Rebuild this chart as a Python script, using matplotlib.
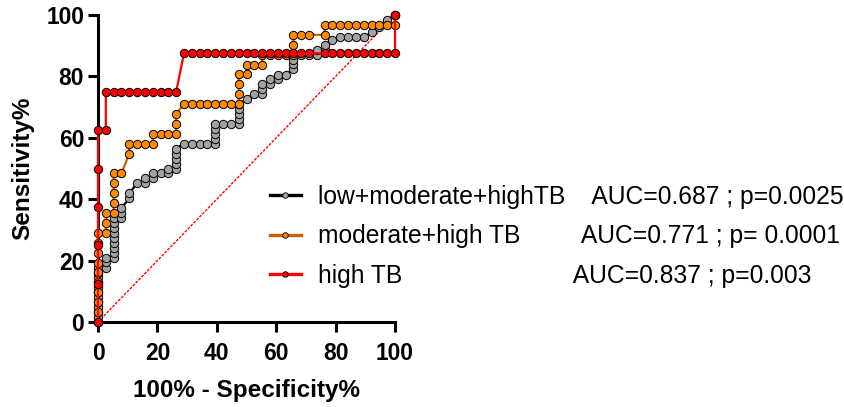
import matplotlib
matplotlib.use('Agg')
import matplotlib.pyplot as plt
from matplotlib.lines import Line2D

plt.rcParams['font.family'] = ['Liberation Sans', 'DejaVu Sans']

# ---------------- data ----------------
# low+moderate+highTB
gray_x = [0, 0, 0, 0, 0, 0, 0, 0, 0, 0, 0, 0,
          2.63, 2.63, 2.63,
          5.26, 5.26, 5.26, 5.26, 5.26, 5.26, 5.26, 5.26, 5.26,
          7.89, 7.89, 7.89,
          10.53, 10.53,
          13.16,
          15.79, 15.79,
          18.42, 18.42,
          21.05,
          23.68, 23.68,
          26.32, 26.32, 26.32, 26.32, 26.32,
          28.95, 31.58, 34.21, 36.84, 39.47,
          39.47, 39.47, 39.47, 39.47,
          42.11, 44.74, 47.37,
          47.37, 47.37, 47.37, 47.37,
          50.00, 52.63,
          55.26, 55.26, 55.26,
          57.89, 57.89,
          60.53, 60.53,
          63.16,
          65.79, 65.79, 65.79,
          68.42, 71.05,
          73.68, 73.68,
          76.32, 76.32,
          78.95,
          81.58, 84.21, 86.84, 89.47,
          92.11, 94.74, 97.37, 100]
gray_y = [0, 1.6, 3.2, 4.8, 6.5, 8.1, 9.7, 11.3, 12.9, 14.5, 16.1, 17.7,
          17.7, 19.4, 21.0,
          21.0, 22.6, 24.2, 25.8, 27.4, 29.0, 30.6, 32.3, 33.9,
          33.9, 35.5, 37.1,
          40.3, 41.9,
          45.2,
          45.2, 46.8,
          46.8, 48.4,
          48.4,
          48.4, 50.0,
          50.0, 51.6, 53.2, 54.8, 56.5,
          58.1, 58.1, 58.1, 58.1, 58.1,
          59.7, 61.3, 62.9, 64.5,
          64.5, 64.5, 64.5,
          66.1, 67.7, 69.4, 71.0,
          72.6, 74.2,
          74.2, 75.8, 77.4,
          77.4, 79.0,
          79.0, 80.6,
          80.6,
          82.3, 83.9, 85.5,
          87.1, 87.1,
          87.1, 88.7,
          88.7, 90.3,
          91.9,
          92.7, 92.7, 92.7, 92.7,
          94.4, 96.0, 98.4, 100]

# moderate+high TB
orange_x = [0, 0, 0, 0, 0, 0, 0, 0, 0, 0,
            2.63, 2.63, 2.63,
            5.26, 5.26, 5.26, 5.26, 5.26,
            7.89,
            10.53, 10.53,
            13.16, 15.79, 18.42,
            18.42, 21.05, 23.68, 26.32,
            26.32, 26.32,
            28.95, 31.58, 34.21, 36.84, 39.47, 42.11, 44.74, 47.37,
            47.37, 47.37, 47.37,
            50.00, 50.00, 52.63, 55.26,
            55.26, 57.89, 60.53, 63.16, 65.79,
            65.79, 65.79, 68.42, 71.05, 76.32,
            76.32, 78.95, 81.58, 84.21, 86.84, 89.47, 92.11, 94.74, 97.37, 100,
            100]
orange_y = [0, 3.23, 6.45, 9.68, 12.90, 16.13, 19.35, 22.58, 25.81, 29.03,
            29.03, 32.26, 35.48,
            35.48, 38.71, 41.94, 45.16, 48.39,
            48.39,
            54.84, 58.06,
            58.06, 58.06, 58.06,
            61.29, 61.29, 61.29, 61.29,
            64.52, 67.74,
            70.97, 70.97, 70.97, 70.97, 70.97, 70.97, 70.97, 70.97,
            74.19, 77.42, 80.65,
            80.65, 83.87, 83.87, 83.87,
            87.10, 87.10, 87.10, 87.10, 87.10,
            90.32, 93.55, 93.55, 93.55, 93.55,
            96.77, 96.77, 96.77, 96.77, 96.77, 96.77, 96.77, 96.77, 96.77, 96.77,
            100]

# high TB
red_x = [0, 0, 0, 0, 0, 0,
         2.63, 2.63,
         5.26, 7.89, 10.53, 13.16, 15.79, 18.42, 21.05, 23.68, 26.32,
         28.95, 31.58, 34.21, 36.84, 39.47, 42.11, 44.74, 47.37, 50.00,
         52.63, 55.26, 57.89, 60.53, 63.16, 65.79, 68.42, 71.05,
         76.32, 78.95, 81.58, 84.21, 86.84, 89.47, 92.11, 94.74, 97.37, 100,
         100]
red_y = [0, 12.5, 25, 37.5, 50, 62.5,
         62.5, 75,
         75, 75, 75, 75, 75, 75, 75, 75, 75,
         87.5, 87.5, 87.5, 87.5, 87.5, 87.5, 87.5, 87.5, 87.5,
         87.5, 87.5, 87.5, 87.5, 87.5, 87.5, 87.5, 87.5,
         87.5, 87.5, 87.5, 87.5, 87.5, 87.5, 87.5, 87.5, 87.5, 87.5,
         100]

ref_x = [0, 100]
ref_y = [0, 100]

series_names = ["low+moderate+highTB", "moderate+high TB", "high TB"]
auc_texts = ["AUC=0.687 ; p=0.0025", "AUC=0.771 ; p= 0.0001", "AUC=0.837 ; p=0.003"]
name_gaps = [4, 9, 25]   # spaces between name and AUC text

xticks = [0, 20, 40, 60, 80, 100]
yticks = [0, 20, 40, 60, 80, 100]

# ---------------- styles ----------------
marker_faces = ['#A3A3A3', '#FF8A00', '#FF0000']
line_colors = ['#000000', '#C86400', '#FF0000']

fig = plt.figure(figsize=(8.44, 4.07), dpi=100)
W, H = 844, 407
ax = fig.add_axes([98 / W, 1 - 322 / H, (395 - 98) / W, (322 - 15) / H])

ax.plot(ref_x, ref_y, color='#FF0000', lw=1.0, ls=(0, (2, 1)), zorder=1)

for xs, ys, mf, lc, z in [(gray_x, gray_y, marker_faces[0], line_colors[0], 2),
                          (orange_x, orange_y, marker_faces[1], line_colors[1], 3),
                          (red_x, red_y, marker_faces[2], line_colors[2], 4)]:
    ax.plot(xs, ys, color=lc, lw=1.6, marker='o', ms=6.0, mfc=mf, mec='black',
            mew=0.7, clip_on=False, zorder=z)

ax.set_xlim(0, 100)
ax.set_ylim(0, 100)
ax.set_xticks(xticks)
ax.set_yticks(yticks)
ax.set_xticklabels([str(t) for t in xticks], fontsize=16.4, fontweight='bold')
ax.set_yticklabels([str(t) for t in yticks], fontsize=16.4, fontweight='bold')
for s in ['top', 'right']:
    ax.spines[s].set_visible(False)
for s in ['left', 'bottom']:
    ax.spines[s].set_linewidth(2.2)
ax.tick_params(axis='both', direction='out', length=7, width=2.2)
ax.tick_params(axis='x', pad=7.5)
ax.tick_params(axis='y', pad=3)

ax.set_xlabel("100% - Specificity%", fontsize=17.5, fontweight='bold')
ax.set_ylabel("Sensitivity%", fontsize=17.5, fontweight='bold')
ax.xaxis.set_label_coords(0.5, -0.185)
ax.yaxis.set_label_coords(-0.215, 0.5)

handles = [Line2D([], [], color=lc, lw=2.4, marker='o', ms=4, mfc=mf, mec='black', mew=0.6)
           for lc, mf in zip(line_colors, marker_faces)]
labels = [n + ' ' * g + a for n, g, a in zip(series_names, name_gaps, auc_texts)]
fig.legend(handles, labels, loc='upper left', bbox_to_anchor=(270 / W, 1 - 185 / H),
           frameon=False, fontsize=17.7, borderpad=0, borderaxespad=0,
           handlelength=1.25, handletextpad=0.7, labelspacing=0.63)

fig.savefig('out.png', dpi=100)
